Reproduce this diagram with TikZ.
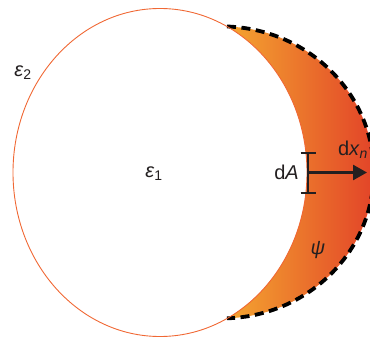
\documentclass[tikz,border=0pt]{standalone}
\usepackage{fontspec}
\setmainfont{Liberation Sans}
\usetikzlibrary{arrows.meta}
\definecolor{rimc}{RGB}{240,104,52}
\definecolor{gleft}{RGB}{244,166,48}
\definecolor{gmid}{RGB}{236,118,46}
\definecolor{gright}{RGB}{226,66,40}
\definecolor{inkc}{RGB}{35,31,32}
\tikzset{
  lbl/.style={font=\fontsize{20}{23}\selectfont, text=inkc, inner sep=0pt},
  rim/.style={draw=rimc, line width=0.9pt},
  front/.style={draw=black, line width=3.8pt, dash pattern=on 9pt off 5.5pt},
  barline/.style={draw=inkc, line width=2.5pt},
}
\begin{document}
\begin{tikzpicture}[x=1pt,y=1pt]
\useasboundingbox (0,0) rectangle (370,338);
% crescent
\shade[left color=gleft, middle color=gmid, right color=gright]
  (227,311.5) arc[start angle=88, end angle=-88, x radius=152pt, y radius=146pt]
  arc[start angle=-62.9, end angle=62.9, x radius=147pt, y radius=164pt] -- cycle;
% outer dashed front
\draw[front] (227,311.5) arc[start angle=88, end angle=-88, x radius=152pt, y radius=146pt];
% particle boundary
\draw[rim] (160,165.5) ellipse[x radius=147pt, y radius=164pt];
% labels
\node[lbl] (e2) at (23,265) {\itshape ε\upshape\textsubscript{2}};
\node[lbl] (e1) at (154,164) {\itshape ε\upshape\textsubscript{1}};
\node[lbl, anchor=east] (dA) at (299,166) {d\textit{A}};
\node[lbl] (dx) at (353,188) {d\textit{x}\textsubscript{\textit{n}}};
\node[lbl] (psi) at (318,88) {\textit{ψ}};
% dA element and normal arrow
\coordinate (bt) at (308,185);
\coordinate (bb) at (308,145);
\coordinate (bc) at (308,165.5);
\coordinate (tip) at (367,165.5);
\draw[barline] (bt) -- (bb);
\draw[barline] ([xshift=-7.5pt]bt) -- ([xshift=7.5pt]bt);
\draw[barline] ([xshift=-7.5pt]bb) -- ([xshift=7.5pt]bb);
\draw[barline, -{Triangle[length=14pt,width=15pt]}] (bc) -- (tip);
\end{tikzpicture}
\end{document}
